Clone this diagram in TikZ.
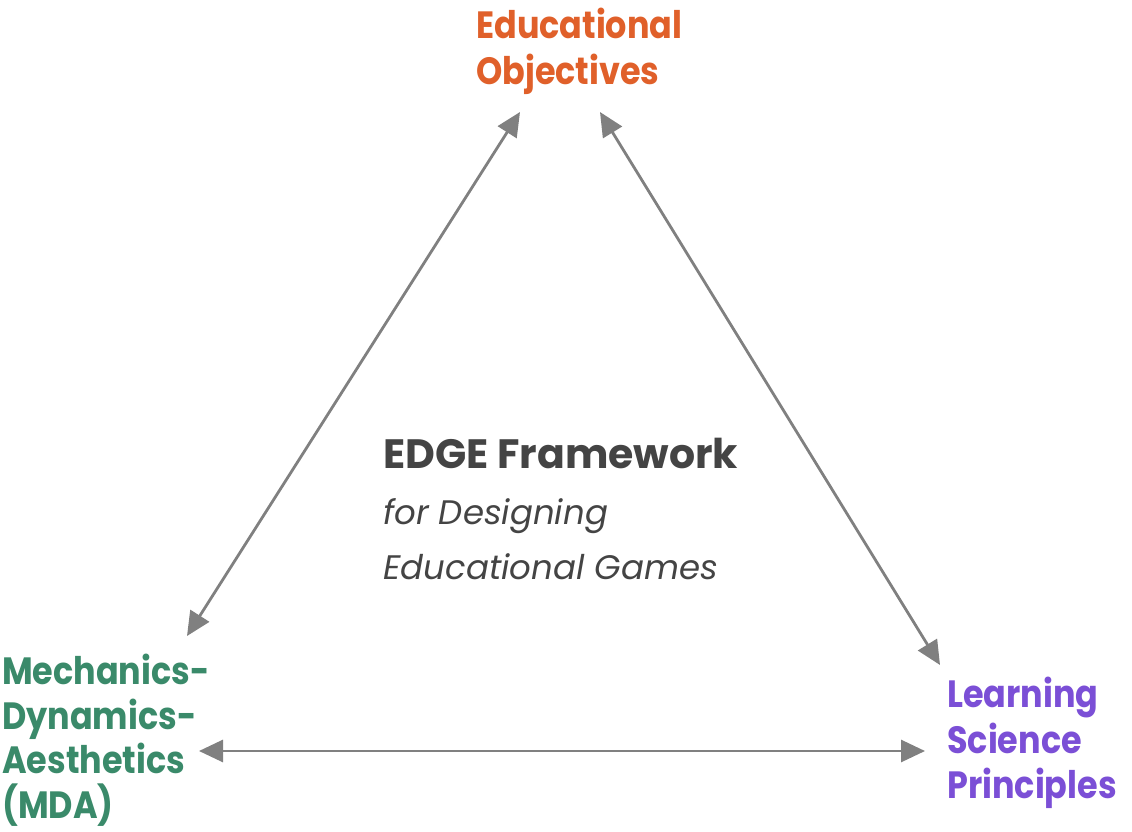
\documentclass[tikz,border=0pt]{standalone}
\usepackage{fontspec}
\setmainfont{Poppins}
\newfontfamily\cornerfont[FakeStretch=0.88]{Poppins}
\usetikzlibrary{arrows.meta}
\definecolor{objcol}{HTML}{E0602A}
\definecolor{mdacol}{HTML}{3A8A6A}
\definecolor{lspcol}{HTML}{7B4FD6}
\definecolor{titlecol}{HTML}{444444}
\definecolor{linkcol}{HTML}{808080}
\begin{document}
\begin{tikzpicture}[x=1pt,y=-1pt,
  corner/.style={inner sep=0pt,anchor=north west,align=left,
    font=\cornerfont\fontsize{38}{45.5}\selectfont\bfseries},
  link/.style={draw=linkcol,line width=2.8pt,
    {Triangle[length=24pt,width=22pt]}-{Triangle[length=24pt,width=22pt]}}]
\useasboundingbox (0,0) rectangle (1132,832);
% corner labels
\node[corner,text=objcol] (obj) at (476,8) {Educational\\Objectives};
\node[corner,text=mdacol,font=\cornerfont\fontsize{38}{44.5}\selectfont\bfseries]
  (mda) at (2,654) {Mechanics-\\Dynamics-\\Aesthetics\\(MDA)};
\node[corner,text=lspcol] (lsp) at (947,677) {Learning\\Science\\Principles};
% centre title
\node[inner sep=0pt,anchor=north west,align=left,text=titlecol,
      font=\fontsize{34}{55.5}\selectfont] (title) at (383,438)
  {{\fontsize{41}{55.5}\selectfont\bfseries EDGE Framework}\\
   \textit{for Designing}\\
   \textit{Educational Games}};
% arrow end points
\coordinate (objL) at (520,112);
\coordinate (objR) at (600,112);
\coordinate (mdaT) at (187,636);
\coordinate (mdaR) at (199,751);
\coordinate (lspT) at (940,665);
\coordinate (lspL) at (925,751);
% links between the three corners
\draw[link] (objL) -- (mdaT);
\draw[link] (objR) -- (lspT);
\draw[link] (mdaR) -- (lspL);
\end{tikzpicture}
\end{document}
